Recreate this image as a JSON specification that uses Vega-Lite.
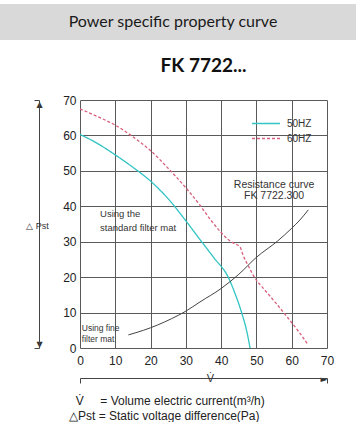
{
  "$schema": "https://vega.github.io/schema/vega-lite/v6.json",
  "padding": {"left": 0, "top": 4, "right": 0, "bottom": 0},
  "background": "white",
  "config": {"view": {"stroke": null}},
  "bounds": "flush",
  "spacing": 60,
  "vconcat": [
    {
      "width": 356,
      "height": 36,
      "view": {"fill": "#d9d9d9", "stroke": null},
      "data": {"values": [{"t": "Power specific property curve"}]},
      "mark": {"type": "text", "font": "Lato", "fontSize": 16, "color": "#1a1a1a", "dx": -5},
      "encoding": {"text": {"field": "t"}}
    },
    {
      "bounds": "flush",
      "spacing": 10,
      "title": {
        "text": ["\u200b\u00a0\u00a0V\u0307\u00a0\u00a0\u00a0\u00a0\u00a0= Volume electric current(m\u00b3/h)", "\u25b3Pst\u00a0= Static voltage difference(Pa)"],
        "orient": "bottom", "anchor": "start", "frame": "group", "dx": 69, "offset": 12,
        "font": "Liberation Sans", "fontSize": 12, "fontWeight": "normal", "color": "#222", "lineHeight": 15
      },
      "hconcat": [
        {
          "width": 70,
          "height": 248,
          "data": {"values": [{}]},
          "mark": {"type": "text", "text": ""},
          "encoding": {}
        },
        {
          "width": 247,
          "height": 248,
          "title": {"text": "FK 7722...", "font": "Lato", "fontSize": 19, "fontWeight": "bold", "color": "#111", "frame": "group", "anchor": "middle", "offset": 18},
          "resolve": {"axis": {"x": "independent", "y": "independent"}},
          "layer": [
            {
              "data": {"values": [
                {"freq": "50HZ", "x": 0, "y": 60.3}, {"freq": "50HZ", "x": 5, "y": 57.7}, {"freq": "50HZ", "x": 10, "y": 54.5},
                {"freq": "50HZ", "x": 15, "y": 51.0}, {"freq": "50HZ", "x": 20, "y": 47.1}, {"freq": "50HZ", "x": 25, "y": 42.1},
                {"freq": "50HZ", "x": 30, "y": 35.9}, {"freq": "50HZ", "x": 34, "y": 30.6}, {"freq": "50HZ", "x": 38, "y": 25.4},
                {"freq": "50HZ", "x": 42, "y": 20}, {"freq": "50HZ", "x": 44, "y": 15.2}, {"freq": "50HZ", "x": 45.8, "y": 10},
                {"freq": "50HZ", "x": 47.2, "y": 5}, {"freq": "50HZ", "x": 48.2, "y": 0},
                {"freq": "60HZ", "x": 0, "y": 67.5}, {"freq": "60HZ", "x": 5, "y": 65.3}, {"freq": "60HZ", "x": 10, "y": 62.9},
                {"freq": "60HZ", "x": 15, "y": 59.6}, {"freq": "60HZ", "x": 20, "y": 55.7}, {"freq": "60HZ", "x": 25, "y": 50.7},
                {"freq": "60HZ", "x": 30, "y": 45.2}, {"freq": "60HZ", "x": 34, "y": 40.3}, {"freq": "60HZ", "x": 37, "y": 36.2},
                {"freq": "60HZ", "x": 40, "y": 32.6}, {"freq": "60HZ", "x": 42, "y": 30.6}, {"freq": "60HZ", "x": 43.5, "y": 29.6},
                {"freq": "60HZ", "x": 45.3, "y": 28.6}, {"freq": "60HZ", "x": 46.3, "y": 26}, {"freq": "60HZ", "x": 47.8, "y": 23},
                {"freq": "60HZ", "x": 49.6, "y": 19.7}, {"freq": "60HZ", "x": 52, "y": 16.8}, {"freq": "60HZ", "x": 55, "y": 13.3},
                {"freq": "60HZ", "x": 59, "y": 8.4}, {"freq": "60HZ", "x": 62, "y": 4.6}, {"freq": "60HZ", "x": 64.7, "y": 0.8}
              ]},
              "mark": {"type": "line", "strokeWidth": 1.3, "interpolate": "monotone"},
              "encoding": {
                "x": {"field": "x", "type": "quantitative", "scale": {"domain": [0, 70], "nice": false},
                  "axis": {"orient": "bottom", "values": [0, 10, 20, 30, 40, 50, 60, 70], "grid": true, "gridColor": "#5a5a5a", "gridWidth": 1,
                    "ticks": false, "domain": false, "labelFont": "Liberation Sans", "labelFontSize": 12, "labelColor": "#222",
                    "labelPadding": 7, "title": null, "labelFlush": false}},
                "y": {"field": "y", "type": "quantitative", "scale": {"domain": [0, 70], "nice": false},
                  "axis": {"orient": "left", "values": [0, 10, 20, 30, 40, 50, 60, 70], "grid": true, "gridColor": "#5a5a5a", "gridWidth": 1,
                    "ticks": false, "domain": false, "labelFont": "Liberation Sans", "labelFontSize": 12, "labelColor": "#222",
                    "labelPadding": 4, "title": null, "labelFlush": false}},
                "color": {"field": "freq", "type": "nominal", "scale": {"domain": ["50HZ", "60HZ"], "range": ["#33c4c4", "#d8607e"]},
                  "legend": {"orient": "none", "legendX": 251, "legendY": 112, "title": null, "symbolType": "stroke", "symbolSize": 784,
                    "symbolStrokeWidth": 1.3, "labelFont": "Liberation Sans", "labelFontSize": 10, "labelColor": "#333",
                    "labelOffset": 6, "clipHeight": 15, "rowPadding": 0, "padding": 0}},
                "strokeDash": {"field": "freq", "type": "nominal", "scale": {"domain": ["50HZ", "60HZ"], "range": [[1, 0], [3, 2]]},
                  "legend": {"orient": "none", "legendX": 251, "legendY": 112, "title": null, "symbolType": "stroke", "symbolSize": 784,
                    "symbolStrokeWidth": 1.3, "labelFont": "Liberation Sans", "labelFontSize": 10, "labelColor": "#333",
                    "labelOffset": 6, "clipHeight": 15, "rowPadding": 0, "padding": 0}}
              }
            },
            {
              "data": {"values": [
                {"x": 13.7, "y": 3.7}, {"x": 18, "y": 5}, {"x": 22, "y": 6.5}, {"x": 26, "y": 8.3}, {"x": 30, "y": 10.4},
                {"x": 34, "y": 13}, {"x": 40, "y": 16.8}, {"x": 45, "y": 20.8}, {"x": 50, "y": 25.6}, {"x": 56, "y": 30.2},
                {"x": 60, "y": 33.8}, {"x": 62.3, "y": 36.1}, {"x": 64.7, "y": 39}
              ]},
              "mark": {"type": "line", "color": "#444", "strokeWidth": 1, "interpolate": "monotone"},
              "encoding": {
                "x": {"field": "x", "type": "quantitative",
                  "axis": {"orient": "bottom", "offset": 30, "values": [0, 70], "grid": false, "domain": true, "domainColor": "#444",
                    "ticks": true, "tickSize": 5, "tickColor": "#444",
                    "labelExpr": "datum.value == 70 ? '\u25ba' : ''", "labelFlush": true, "labelPadding": -5, "labelBaseline": "middle",
                    "labelFont": "DejaVu Sans", "labelFontSize": 9, "labelColor": "#333",
                    "title": "V\u0307", "titleX": 130, "titleY": 0, "titleBaseline": "middle", "titleAlign": "center",
                    "titleFont": "Liberation Sans", "titleFontSize": 11, "titleFontWeight": "normal", "titleColor": "#333"}},
                "y": {"field": "y", "type": "quantitative",
                  "axis": {"orient": "left", "offset": 41, "values": [0, 70], "grid": false, "domain": true, "domainColor": "#444",
                    "ticks": true, "tickSize": 5, "tickColor": "#444",
                    "labelExpr": "datum.value == 70 ? '\u25b2' : '\u25bc'", "labelFlush": true, "labelAlign": "center", "labelPadding": -5,
                    "labelFont": "DejaVu Sans", "labelFontSize": 8, "labelColor": "#333",
                    "title": "\u25b3 Pst", "titleAngle": 0, "titleX": -2, "titleY": 125, "titleAlign": "center", "titleBaseline": "middle",
                    "titleFont": "Liberation Sans", "titleFontSize": 9, "titleFontWeight": "normal", "titleColor": "#333"}}
              }
            },
            {
              "data": {"values": [
                {"x": 55, "y": 46.0, "t": "Resistance curve"},
                {"x": 55, "y": 42.9, "t": "FK 7722.300"}
              ]},
              "mark": {"type": "text", "font": "Liberation Sans", "fontSize": 10.5, "color": "#333", "align": "center", "baseline": "middle"},
              "encoding": {
                "x": {"field": "x", "type": "quantitative", "axis": null},
                "y": {"field": "y", "type": "quantitative", "axis": null},
                "text": {"field": "t"}
              }
            },
            {
              "data": {"values": [
                {"x": 5.7, "y": 37.8, "t": "Using the"},
                {"x": 5.7, "y": 33.8, "t": "standard filter mat"}
              ]},
              "mark": {"type": "text", "font": "Liberation Sans", "fontSize": 9.5, "color": "#333", "align": "left", "baseline": "middle"},
              "encoding": {
                "x": {"field": "x", "type": "quantitative", "axis": null},
                "y": {"field": "y", "type": "quantitative", "axis": null},
                "text": {"field": "t"}
              }
            },
            {
              "data": {"values": [
                {"x": 0.5, "y": 5.6, "t": "Using fine"},
                {"x": 0.5, "y": 2.5, "t": "filter mat"}
              ]},
              "mark": {"type": "text", "font": "Liberation Sans", "fontSize": 8.5, "color": "#333", "align": "left", "baseline": "middle"},
              "encoding": {
                "x": {"field": "x", "type": "quantitative", "axis": null},
                "y": {"field": "y", "type": "quantitative", "axis": null},
                "text": {"field": "t"}
              }
            }
          ]
        }
      ]
    }
  ]
}
